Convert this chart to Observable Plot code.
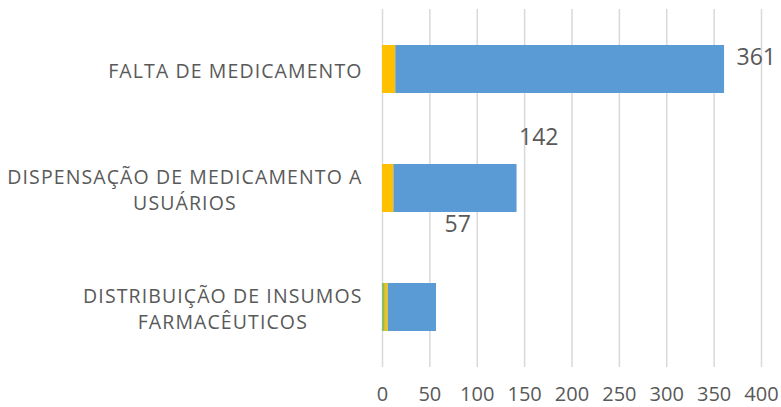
<!DOCTYPE html>
<html><head><meta charset="utf-8">
<script src="https://cdn.jsdelivr.net/npm/d3@7"></script>
<script src="https://cdn.jsdelivr.net/npm/@observablehq/plot@0.6"></script>
<style>body{margin:0;background:#fff;} #chart svg{display:block;}</style>
</head><body><div id="chart"></div>
<script>
// ---- data ----
const categories = ["FALTA DE MEDICAMENTO", "DISPENSAÇÃO DE MEDICAMENTO A USUÁRIOS", "DISTRIBUIÇÃO DE INSUMOS FARMACÊUTICOS"];
const categoryLabels = ["FALTA DE MEDICAMENTO", "DISPENSAÇÃO DE MEDICAMENTO A\nUSUÁRIOS", "DISTRIBUIÇÃO DE INSUMOS\nFARMACÊUTICOS"];
const seriesNames = ["Série 1", "Série 2", "Série 3"];
const series1Values = [0, 0, 3];      // green
const series2Values = [14, 12, 3];    // yellow
const series3Values = [347, 130, 51]; // blue
const totals = [361, 142, 57];
const xTicks = [0, 50, 100, 150, 200, 250, 300, 350, 400];

// ---- styles ----
const seriesColors = ["#8cbf5a", "#ffc000", "#5b9bd5"];
const labelDx = [12, 2, 8];
const labelDy = [-12, -51, -83];
const textColor = "#595959";
const font = "'Open Sans', sans-serif";

const seriesValues = [series1Values, series2Values, series3Values];
const rows = [];
seriesNames.forEach((s, si) => categories.forEach((c, ci) => rows.push({category: c, series: s, value: seriesValues[si][ci]})));
const labelRows = categories.map((c, i) => ({category: c, total: totals[i], i}));
const labelMap = new Map(categories.map((c, i) => [c, categoryLabels[i]]));

const chart = Plot.plot({
  width: 781,
  height: 407,
  marginLeft: 382,
  marginRight: 20,
  marginTop: 9,
  marginBottom: 40,
  style: {fontFamily: font, color: textColor, background: "#fff"},
  x: {domain: [0, 400], axis: null},
  y: {domain: categories, paddingInner: 0.6, paddingOuter: 0.3, axis: null},
  color: {domain: seriesNames, range: seriesColors},
  marks: [
    Plot.gridX(xTicks, {stroke: "#d9d9d9", strokeOpacity: 1, strokeWidth: 1.5}),
    Plot.barX(rows, {x: "value", y: "category", fill: "series"}),
    Plot.axisX(xTicks, {tickSize: 0, tickPadding: 19, fontSize: 20, fill: textColor, label: null}),
    Plot.axisY(categories, {tickSize: 0, tickPadding: 20, fontSize: 19.5, fill: textColor, label: null,
      tickFormat: d => labelMap.get(d), lineHeight: 1.33}),
    ...labelRows.map((r, i) => Plot.text([r], {x: "total", y: "category", text: d => String(d.total),
      textAnchor: "start", dx: labelDx[i], dy: labelDy[i], fontSize: 23, fill: textColor}))
  ]
});
document.getElementById("chart").appendChild(chart);

// Excel-like category labels: slight letter spacing, multi-line labels centred
chart.querySelectorAll("g[aria-label='y-axis tick label'] text").forEach(t => {
  t.style.letterSpacing = "1.1px";
  const spans = t.querySelectorAll("tspan");
  if (spans.length < 2) return;
  let max = 0;
  spans.forEach(s => { max = Math.max(max, s.getComputedTextLength()); });
  t.setAttribute("text-anchor", "middle");
  spans.forEach(s => s.setAttribute("x", -max / 2));
});
</script>
</body></html>
